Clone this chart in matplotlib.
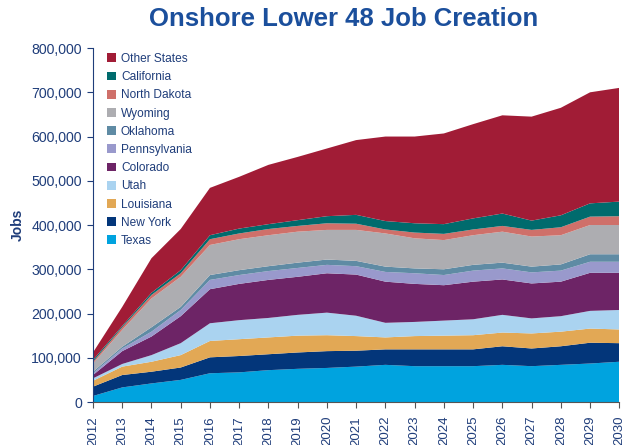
import matplotlib
matplotlib.use("Agg")
import matplotlib.pyplot as plt
from matplotlib.patches import Patch
from matplotlib.ticker import FuncFormatter

plt.rcParams['font.family'] = ['Liberation Sans', 'DejaVu Sans']

years = list(range(2012, 2031))
series_names = ["Texas", "New York", "Louisiana", "Utah", "Colorado", "Pennsylvania",
                "Oklahoma", "Wyoming", "North Dakota", "California", "Other States"]

# values in thousands of jobs
texas        = [13.6, 33, 42, 50, 65, 67, 72, 75, 77, 80, 84, 81, 81, 81, 84, 81, 84, 87, 91]
new_york     = [21.1, 28, 26.5, 28, 36, 37, 36, 37, 38, 36, 35, 38, 38, 38, 42, 40, 42, 47, 42]
louisiana    = [13.3, 19, 22.5, 28, 37, 38, 38, 38, 36, 33, 27, 30, 31, 32, 31, 34, 33, 32, 31]
utah         = [5.5, 6, 15, 27, 40, 43, 44, 47, 51, 46, 33, 32, 34, 36, 40, 34, 35, 40, 44]
colorado     = [7.5, 29, 42, 61, 77, 82, 86, 86, 89, 93, 93, 86, 80, 85, 80, 79, 78, 86, 84]
pennsylvania = [4, 6, 11, 14, 21, 20, 20, 20, 19, 19, 22, 24, 23, 25, 25, 25, 25, 25, 25]
oklahoma     = [3.5, 4, 10, 7, 11, 11, 11, 12, 12, 12, 12, 11, 13, 13, 13, 13, 14, 17, 17]
wyoming      = [18.5, 38, 65, 68, 68, 70, 70, 70, 67, 70, 75, 68, 66, 67, 70, 68, 66, 66, 66]
north_dakota = [4, 6, 8, 8, 13, 13, 14, 13, 15, 14, 9, 13, 14, 13, 13, 15, 18, 19, 20]
california   = [4, 3, 5, 7, 9, 11, 11, 13, 16, 20, 19, 21, 22, 25, 28, 21, 27, 30, 33]
other_states = [17, 43, 78, 93, 107, 117, 134, 143, 153, 169, 191, 196, 205, 213, 222, 235, 243, 251, 257]

colors = ["#00A3DF", "#03367A", "#E2A855", "#AAD3F0", "#6D2466", "#9999CC",
          "#5F8BA4", "#ADADB1", "#CF706A", "#006B6D", "#A11C36"]

data = [texas, new_york, louisiana, utah, colorado, pennsylvania, oklahoma,
        wyoming, north_dakota, california, other_states]
data = [[v * 1000 for v in s] for s in data]

text_col = "#1F3D7A"

fig = plt.figure(figsize=(6.25, 4.45), dpi=100)
ax = fig.add_axes([0.1488, 0.0966, 0.8421, 0.7954])

ax.stackplot(years, *data, colors=colors, linewidth=0, edgecolor='none', antialiased=True)

ax.set_xlim(2012, 2030)
ax.set_ylim(0, 800000)
ax.set_xticks(years)
ax.set_xticklabels([str(y) for y in years], rotation=90, fontsize=9.5, color=text_col)
ax.set_yticks(range(0, 800001, 100000))
ax.yaxis.set_major_formatter(FuncFormatter(lambda v, p: f"{int(v):,}"))
for lab in ax.get_yticklabels():
    lab.set_fontsize(10.2)
    lab.set_color(text_col)

for s in ["top", "right"]:
    ax.spines[s].set_visible(False)
ax.spines["left"].set_color(text_col)
ax.spines["bottom"].set_color("#555555")
ax.tick_params(axis="y", direction="out", length=4, color=text_col, pad=4)
ax.tick_params(axis="x", direction="out", length=4, color="#555555", pad=6)

ax.set_ylabel("Jobs", fontsize=10, fontweight="bold", color=text_col)
ax.yaxis.set_label_coords(-0.13, 0.5)

fig.suptitle("Onshore Lower 48 Job Creation", fontsize=18.5, fontweight="bold",
             color="#1B4F9C", x=0.55, y=0.985)

handles = [Patch(facecolor=c, edgecolor='none') for c in colors[::-1]]
ax.legend(handles, series_names[::-1], loc="upper left", bbox_to_anchor=(0.01, 1.01),
          frameon=False, fontsize=8.6, labelcolor=text_col, handlelength=0.75,
          handleheight=0.75, handletextpad=0.45, labelspacing=0.52, borderaxespad=0.3)

fig.savefig("out.png", dpi=100)
